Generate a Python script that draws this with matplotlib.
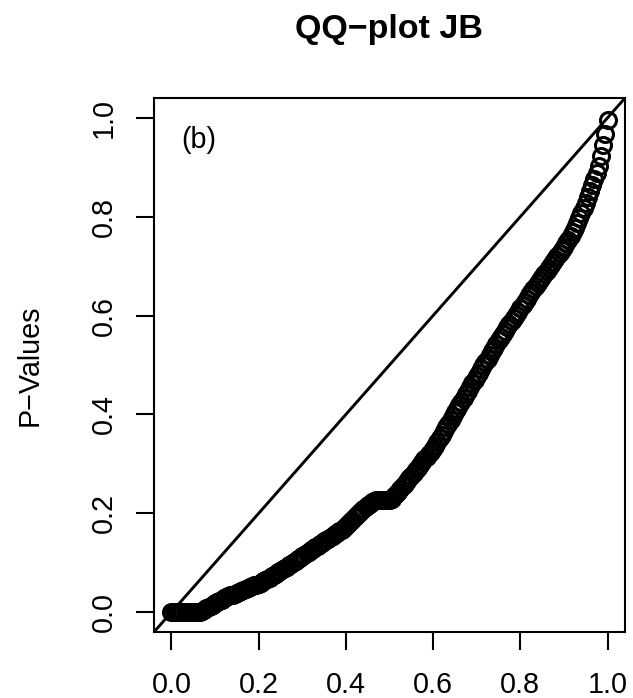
import numpy as np
import matplotlib
matplotlib.use("Agg")
import matplotlib.pyplot as plt

plt.rcParams['font.family'] = ['Liberation Sans', 'DejaVu Sans']

# sorted JB p-values (201 points)
p_values = [
    0, 0, 0, 0, 0, 0, 0, 0, 0, 0,
    0, 0, 0, 0, 0.003, 0.005, 0.008, 0.010, 0.013, 0.015,
    0.018, 0.020, 0.023, 0.025, 0.028, 0.030, 0.032, 0.034, 0.035, 0.037,
    0.039, 0.041, 0.043, 0.045, 0.047, 0.048, 0.050, 0.052, 0.054, 0.056,
    0.058, 0.060, 0.063, 0.065, 0.068, 0.070, 0.073, 0.075, 0.078, 0.081,
    0.084, 0.087, 0.090, 0.092, 0.095, 0.098, 0.101, 0.104, 0.107, 0.110,
    0.113, 0.116, 0.119, 0.122, 0.125, 0.128, 0.131, 0.134, 0.137, 0.140,
    0.143, 0.146, 0.149, 0.152, 0.155, 0.158, 0.161, 0.164, 0.167, 0.171,
    0.175, 0.179, 0.183, 0.187, 0.192, 0.196, 0.200, 0.204, 0.208, 0.212,
    0.216, 0.219, 0.222, 0.225, 0.226, 0.226, 0.226, 0.226, 0.226, 0.226,
    0.226, 0.229, 0.234, 0.239, 0.244, 0.250, 0.255, 0.260, 0.266, 0.271,
    0.276, 0.282, 0.287, 0.292, 0.298, 0.303, 0.309, 0.314, 0.319, 0.325,
    0.330, 0.337, 0.345, 0.352, 0.359, 0.367, 0.374, 0.381, 0.389, 0.396,
    0.404, 0.411, 0.419, 0.426, 0.433, 0.441, 0.448, 0.455, 0.463, 0.470,
    0.477, 0.484, 0.492, 0.499, 0.506, 0.513, 0.521, 0.528, 0.535, 0.543,
    0.550, 0.556, 0.563, 0.569, 0.576, 0.582, 0.589, 0.595, 0.602, 0.608,
    0.615, 0.621, 0.628, 0.634, 0.641, 0.647, 0.653, 0.659, 0.665, 0.671,
    0.678, 0.684, 0.690, 0.696, 0.702, 0.708, 0.715, 0.721, 0.727, 0.733,
    0.739, 0.746, 0.753, 0.761, 0.769, 0.778, 0.787, 0.797, 0.807, 0.817,
    0.828, 0.840, 0.852, 0.864, 0.876, 0.889, 0.903, 0.922, 0.944, 0.968,
    0.995,
]
# theoretical uniform quantiles
uniform_q = np.linspace(0, 1, len(p_values))

ticks = [0.0, 0.2, 0.4, 0.6, 0.8, 1.0]
tick_labels = ["0.0", "0.2", "0.4", "0.6", "0.8", "1.0"]

fig = plt.figure(figsize=(6.33, 6.98), dpi=100)
ax = fig.add_axes([0.2433, 0.0946, 0.7441, 0.765])

ax.plot(uniform_q, p_values, 'o', mfc='none', mec='black', ms=11.5, mew=2.2)
ax.plot([-0.1, 1.1], [-0.1, 1.1], color='black', lw=2.1)

ax.set_xlim(-0.04, 1.04)
ax.set_ylim(-0.04, 1.04)
ax.set_xticks(ticks)
ax.set_xticklabels(tick_labels)
ax.set_yticks(ticks)
ax.set_yticklabels(tick_labels)
for s in ax.spines.values():
    s.set_linewidth(1.5)

ax.tick_params(direction='out', length=13, width=1.5, labelsize=20.7)
ax.tick_params(axis='x', pad=15)
ax.tick_params(axis='y', pad=13, labelrotation=90)
for lab in ax.get_yticklabels():
    lab.set_va('center')

ax.text(0.062, 0.955, "(b)", fontsize=20.7, ha='center', va='center')

fig.text(389 / 633, 1 - 38 / 698, "QQ\u2212plot JB", fontsize=24.5, fontweight='bold',
         ha='center', va='baseline')
fig.text(30 / 633, 1 - 365 / 698, "P\u2212Values", fontsize=20.7, rotation=90,
         ha='center', va='center')

fig.savefig("out.png", dpi=100)
